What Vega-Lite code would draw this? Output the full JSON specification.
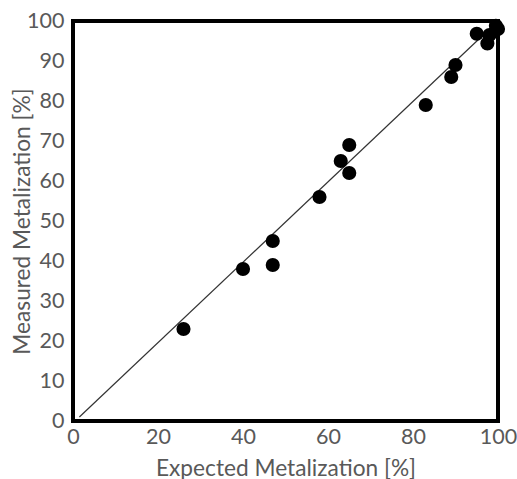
{
  "$schema": "https://vega.github.io/schema/vega-lite/v6.json",
  "width": 425,
  "height": 400,
  "autosize": {"type": "none"},
  "padding": {"left": 73, "top": 21, "right": 19, "bottom": 58},
  "background": "white",
  "config": {
    "view": {"stroke": "black", "strokeWidth": 4},
    "font": "Lato",
    "axis": {
      "grid": false, "ticks": false, "domain": false,
      "labelFlush": false, "labelOverlap": false,
      "labelFont": "Lato", "labelFontSize": 21.5, "labelColor": "#595959",
      "titleFont": "Lato", "titleFontSize": 22.7, "titleFontWeight": "normal", "titleColor": "#595959"
    }
  },
  "encoding": {
    "x": {"field": "ex", "type": "quantitative",
      "scale": {"domain": [0, 100], "nice": false},
      "axis": {"values": [0, 20, 40, 60, 80, 100], "title": "Expected Metalization [%]", "labelPadding": 5, "titleY": 47, "titleBaseline": "middle"}},
    "y": {"field": "me", "type": "quantitative",
      "scale": {"domain": [0, 100], "nice": false},
      "axis": {"values": [0, 10, 20, 30, 40, 50, 60, 70, 80, 90, 100], "title": "Measured Metalization [%]", "labelPadding": 9, "titleX": -51, "titleY": 200, "titleAngle": -90, "titleAlign": "center", "titleBaseline": "middle"}}
  },
  "layer": [
    {
      "data": {"values": [{"ex": 1.5, "me": 1}, {"ex": 100, "me": 100}]},
      "mark": {"type": "line", "color": "#333333", "strokeWidth": 1.2}
    },
    {
      "data": {"values": [
        {"ex": 26, "me": 23},
        {"ex": 40, "me": 38},
        {"ex": 47, "me": 45},
        {"ex": 47, "me": 39},
        {"ex": 58, "me": 56},
        {"ex": 63, "me": 65},
        {"ex": 65, "me": 69},
        {"ex": 65, "me": 62},
        {"ex": 83, "me": 79},
        {"ex": 89, "me": 86},
        {"ex": 90, "me": 89},
        {"ex": 95, "me": 96.8},
        {"ex": 97.5, "me": 94.4},
        {"ex": 98, "me": 96.5},
        {"ex": 99.5, "me": 98.8},
        {"ex": 100, "me": 98}
      ]},
      "mark": {"type": "circle", "color": "black", "opacity": 1, "size": 200}
    }
  ]
}
